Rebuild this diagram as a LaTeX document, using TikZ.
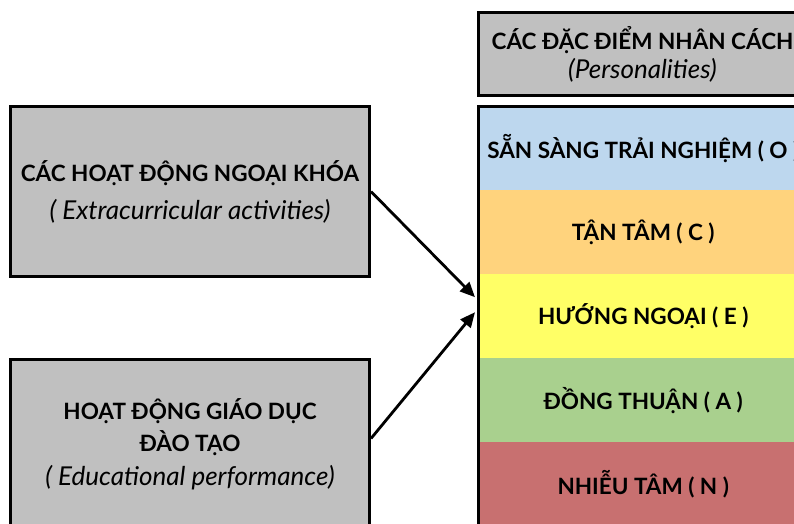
\documentclass[tikz,border=0pt]{standalone}
\usepackage{fontspec}
\setmainfont{Lato}
\usetikzlibrary{arrows.meta,calc}

\definecolor{boxgray}{RGB}{192,192,192}
\definecolor{traitO}{RGB}{189,215,238}
\definecolor{traitC}{RGB}{255,211,125}
\definecolor{traitE}{RGB}{255,255,102}
\definecolor{traitA}{RGB}{169,208,142}
\definecolor{traitN}{RGB}{200,112,112}

% English subtitles are set a little larger than the bold headings
\newcommand{\engline}[1]{{\fontsize{26}{35}\selectfont\itshape #1}}

\tikzset{
  graybox/.style={draw=black, line width=3pt, fill=boxgray, align=center,
    inner sep=0pt, anchor=north west},
  sidetext/.style={font=\fontsize{22.5}{35}\selectfont},
  traitbox/.style={fill=#1, minimum width=330pt, minimum height=84pt,
    inner sep=0pt, anchor=north west, font=\bfseries\fontsize{22.5}{26}\selectfont},
  link/.style={draw=black, line width=2.8pt,
    -{Triangle[length=15pt,width=13pt]}},
}

\begin{document}
\begin{tikzpicture}[x=1pt, y=-1pt]
\useasboundingbox (0,0) rectangle (794,523);

% personality header
\node[graybox, minimum width=328pt, minimum height=83pt,
      font=\fontsize{22.5}{31}\selectfont] (head) at (477,11)
  {\textbf{CÁC ĐẶC ĐIỂM NHÂN CÁCH}\\[-2pt] \engline{(Personalities)}};

% influencing factors
\node[graybox, sidetext, minimum width=359pt, minimum height=170pt] (act) at (9,105)
  {\textbf{CÁC HOẠT ĐỘNG NGOẠI KHÓA}\\[3pt] \engline{( Extracurricular activities)}};
\node[graybox, sidetext, minimum width=359pt, minimum height=170pt] (edu) at (9,358)
  {\textbf{HOẠT ĐỘNG GIÁO DỤC}\\[-3pt] \textbf{ĐÀO TẠO}\\[-1pt] \engline{( Educational performance)}};

% big five stack
\node[traitbox=traitO] (O) at (478,106) {SẴN SÀNG TRẢI NGHIỆM ( O )};
\node[traitbox=traitC] (C) at (478,190) {TẬN TÂM ( C )};
\node[traitbox=traitE] (E) at (478,274) {HƯỚNG NGOẠI ( E )};
\node[traitbox=traitA] (A) at (478,358) {ĐỒNG THUẬN ( A )};
\node[traitbox=traitN] (N) at (478,442) {NHIỄU TÂM ( N )};
\draw[line width=3pt] (O.north west) rectangle (N.south east);

% influence arrows
\coordinate (inA) at ($(E.west)+(-3,-19)$);
\coordinate (inB) at ($(E.west)+(-3,-4)$);
\draw[link] (act.east) -- (inA);
\draw[link] ($(edu.east)+(0,-6)$) -- (inB);
\end{tikzpicture}
\end{document}
